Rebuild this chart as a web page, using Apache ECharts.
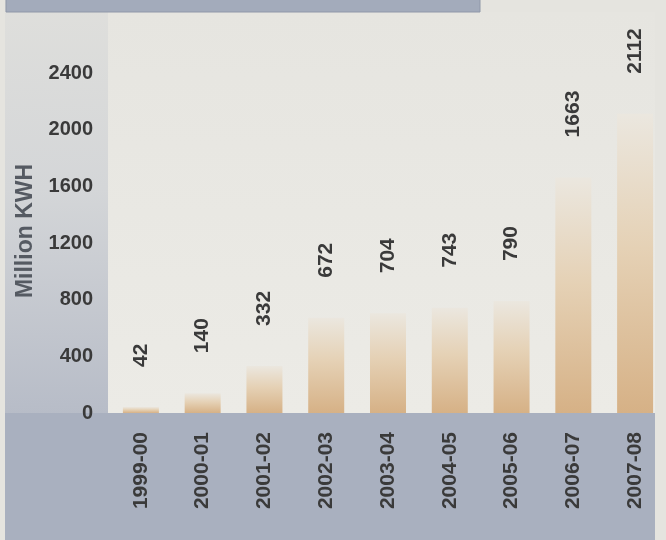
<!DOCTYPE html>
<html>
<head>
<meta charset="utf-8">
<style>
  html, body { margin: 0; padding: 0; background: #e5e4df; }
  #chart { width: 666px; height: 540px; }
</style>
<script src="https://cdn.jsdelivr.net/npm/echarts@6/dist/echarts.min.js"></script>
</head>
<body>
<div id="chart"></div>
<script>
// Annual generation, million KWH
const years = ['1999-00', '2000-01', '2001-02', '2002-03', '2003-04', '2004-05', '2005-06', '2006-07', '2007-08'];
const generation = [42, 140, 332, 672, 704, 743, 790, 1663, 2112];
const yTicks = { min: 0, max: 2400, interval: 400 };

const chart = echarts.init(document.getElementById('chart'), null, { renderer: 'canvas' });

const textColor = '#3a3a3a';
const fontFamily = '"Liberation Sans", Arial, Helvetica, sans-serif';

chart.setOption({
  backgroundColor: '#e5e4df',
  animation: false,
  graphic: [
    // left panel, darkening towards the bottom
    {
      type: 'rect', z: -10, silent: true,
      shape: { x: 5, y: 0, width: 105, height: 540 },
      style: {
        fill: new echarts.graphic.LinearGradient(0, 0, 0, 1, [
          { offset: 0, color: '#dfdfdc' },
          { offset: 0.35, color: '#d4d6d8' },
          { offset: 0.75, color: '#b8bdc8' },
          { offset: 1, color: '#a9afbe' }
        ])
      }
    },
    // bottom band under the axis
    {
      type: 'rect', z: -10, silent: true,
      shape: { x: 5, y: 413, width: 650, height: 127 },
      style: { fill: '#a9b0bf' }
    },
    // plot background
    {
      type: 'rect', z: -10, silent: true,
      shape: { x: 108, y: 12, width: 547, height: 401 },
      style: {
        fill: new echarts.graphic.LinearGradient(0, 0, 0, 1, [
          { offset: 0, color: '#e6e5e0' },
          { offset: 1, color: '#ecebe6' }
        ])
      }
    },
    // header strip
    {
      type: 'rect', z: -9, silent: true,
      shape: { x: 6, y: -2, width: 474, height: 14 },
      style: { fill: '#a3abbb', stroke: '#8f97a8', lineWidth: 1 }
    }
  ],
  grid: { left: 110, top: 73, width: 561, bottom: 127, containLabel: false },
  xAxis: {
    type: 'category',
    data: years,
    axisLine: { show: false },
    axisTick: { show: false },
    axisLabel: {
      rotate: 90,
      margin: 19,
      color: textColor,
      fontFamily: fontFamily,
      fontWeight: 'bold',
      fontSize: 21
    }
  },
  yAxis: {
    type: 'value',
    min: yTicks.min,
    max: yTicks.max,
    interval: yTicks.interval,
    name: 'Million KWH',
    nameLocation: 'middle',
    nameGap: 65,
    nameTextStyle: {
      color: '#555a62',
      fontFamily: fontFamily,
      fontWeight: 'bold',
      fontSize: 23,
      padding: [0, 0, 0, 24]
    },
    axisLine: { show: false },
    axisTick: { show: false },
    splitLine: { show: false },
    axisLabel: {
      margin: 17,
      color: textColor,
      fontFamily: fontFamily,
      fontWeight: 'bold',
      fontSize: 20,
      formatter: (v) => String(v)
    }
  },
  series: [{
    type: 'bar',
    data: generation,
    barWidth: 36,
    itemStyle: {
      color: new echarts.graphic.LinearGradient(0, 0, 0, 1, [
        { offset: 0, color: '#ebe7df' },
        { offset: 0.45, color: '#e5d1b5' },
        { offset: 1, color: '#d6b186' }
      ])
    },
    label: {
      show: true,
      position: 'top',
      distance: 40,
      rotate: 90,
      align: 'left',
      verticalAlign: 'middle',
      color: textColor,
      fontFamily: fontFamily,
      fontWeight: 'bold',
      fontSize: 21
    }
  }]
});
</script>
</body>
</html>
